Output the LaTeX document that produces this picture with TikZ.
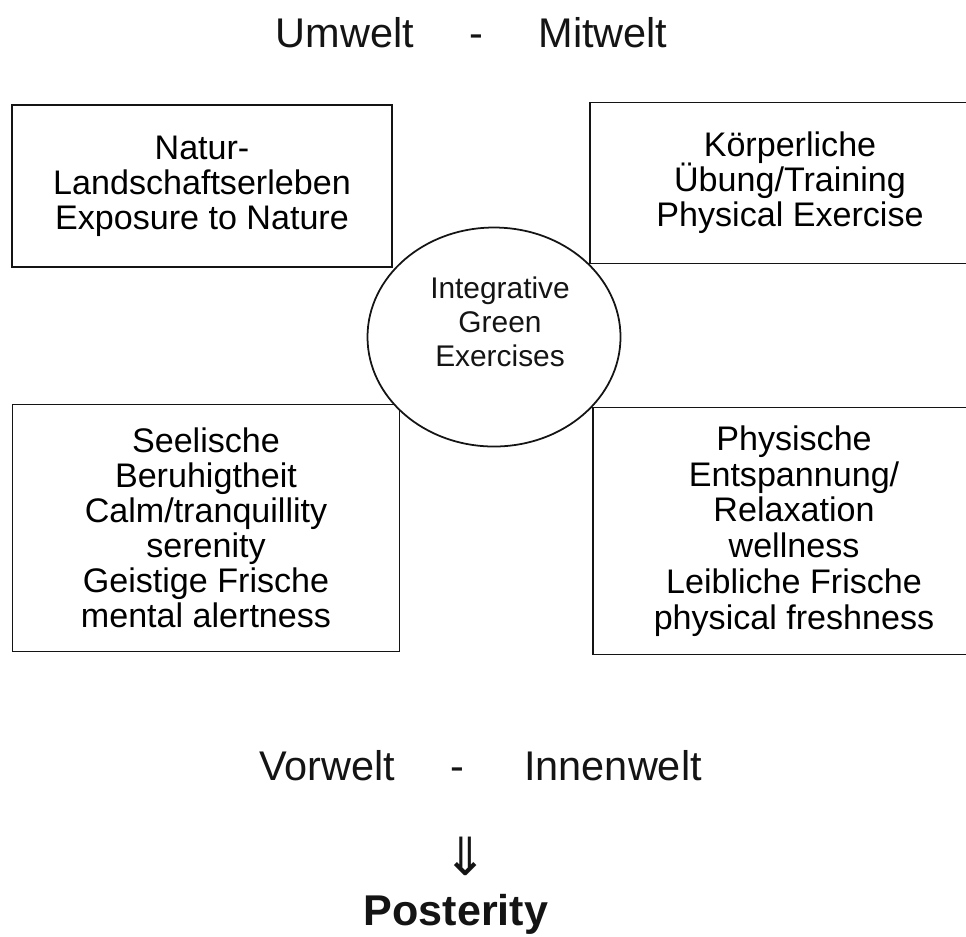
\documentclass[tikz,border=0pt]{standalone}
\usepackage{fontspec}
\setmainfont{Liberation Sans}
\newfontfamily\arrowfont{DejaVu Sans}
\usepackage{tikz}
\usetikzlibrary{shapes.geometric}
\definecolor{inkclr}{RGB}{20, 20, 20}
\setlength{\lineskiplimit}{-20pt}

\tikzset{
  facetbox/.style={draw=inkclr, line width=1pt, align=center, inner sep=0pt,
    font=\fontsize{19.4}{19.9}\selectfont},
  hubring/.style={draw=inkclr, line width=1pt, ellipse, inner sep=0pt,
    minimum width=5.06cm, minimum height=4.38cm},
  worldlabel/.style={anchor=base, inkclr, font=\fontsize{23.6}{26}\selectfont}
}

\begin{document}
\begin{tikzpicture}
  \useasboundingbox (0,0) rectangle (19.32,-18.72);
  \clip (0,0) rectangle (19.32,-18.72);
  % top heading
  \node[worldlabel] (umwelt)  at (6.90,-0.94)  {Umwelt};
  \node[worldlabel] (dashtop) at (9.52,-0.94)  {-};
  \node[worldlabel] (mitwelt) at (12.06,-0.94) {Mitwelt};
  % four fields
  \node[facetbox, minimum width=7.60cm, minimum height=3.24cm] (natur) at (4.04,-3.72)
    {Natur-\\Landschaftserleben\\Exposure to Nature};
  \node[facetbox, minimum width=8.00cm, minimum height=3.22cm] (koerper) at (15.80,-3.66)
    {Körperliche\\Übung/Training\\Physical Exercise};
  \node[facetbox, minimum width=7.74cm, minimum height=4.94cm] (seele) at (4.12,-10.56)
    {Seelische\\Beruhigtheit\\Calm/tranquillity\\serenity\\Geistige Frische\\mental alertness};
  \node[facetbox, minimum width=8.04cm, minimum height=4.94cm,
    font=\fontsize{19.4}{20.4}\selectfont] (physis) at (15.88,-10.62)
    {Physische\\Entspannung/\\Relaxation\\wellness\\Leibliche Frische\\physical freshness};
  % centre
  \node[hubring, fill=white] (hub) at (9.88,-6.74) {};
  \node[align=center, inkclr, font=\fontsize{17}{19.4}\selectfont]
    (hubtext) at (10.00,-6.44) {Integrative\\Green\\Exercises};
  % bottom heading
  \node[worldlabel] (vorwelt)   at (6.54,-15.60)  {Vorwelt};
  \node[worldlabel] (dashbot)   at (9.14,-15.60)  {-};
  \node[worldlabel] (innenwelt) at (12.26,-15.60) {Innenwelt};
  \node[inkclr, font=\fontsize{30}{32}\selectfont\arrowfont] (arrow) at (9.32,-17.12) {⇓};
  \node[anchor=base, inkclr, font=\fontsize{24.5}{28}\selectfont\bfseries] (posterity)
    at (9.12,-18.50) {Posterity};
\end{tikzpicture}
\end{document}
